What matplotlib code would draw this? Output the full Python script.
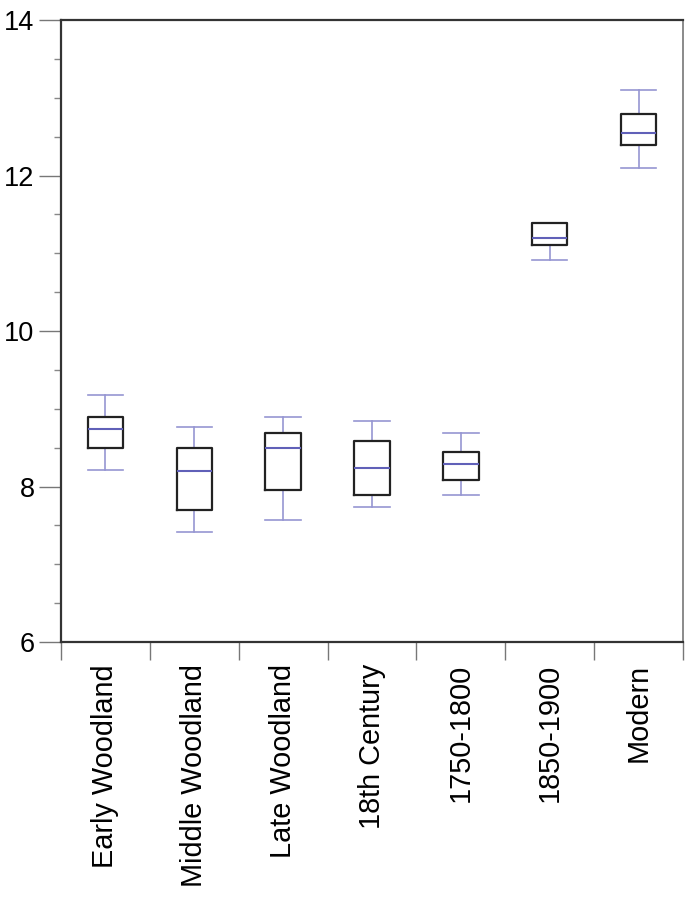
import matplotlib
matplotlib.use("Agg")
import matplotlib.pyplot as plt
from matplotlib.ticker import MultipleLocator, FixedLocator, NullFormatter

categories = ["Early Woodland", "Middle Woodland", "Late Woodland", "18th Century",
              "1750-1800", "1850-1900", "Modern"]
whislo = [8.21, 7.42, 7.57, 7.74, 7.89, 10.91, 12.10]
q1     = [8.49, 7.70, 7.96, 7.89, 8.09, 11.10, 12.39]
med    = [8.74, 8.20, 8.49, 8.24, 8.29, 11.19, 12.55]
q3     = [8.90, 8.49, 8.69, 8.59, 8.44, 11.39, 12.79]
whishi = [9.18, 8.76, 8.89, 8.84, 8.69, 11.39, 13.10]

plt.rcParams['font.family'] = ['Liberation Sans', 'DejaVu Sans']

fig = plt.figure(figsize=(6.85, 8.97), dpi=100)
ax = fig.add_axes([61/685, 1-642/897, (683-61)/685, (642-20)/897])

stats = []
for i in range(len(categories)):
    stats.append(dict(label=categories[i], whislo=whislo[i], q1=q1[i], med=med[i],
                      q3=q3[i], whishi=whishi[i], fliers=[]))

pos = list(range(1, len(categories) + 1))
ax.bxp(stats, positions=pos, widths=0.4, showfliers=False,
       boxprops=dict(color='#222222', linewidth=1.6, zorder=4),
       whiskerprops=dict(color='#9696d2', linewidth=1.2, zorder=2),
       capprops=dict(color='#9696d2', linewidth=1.2, zorder=2),
       medianprops=dict(color='#6060b8', linewidth=1.5, zorder=5),
       capwidths=0.4)

ax.set_xlim(0.5, len(categories) + 0.5)
ax.set_ylim(6, 14)

# x: boundary ticks (major, unlabeled), labels at centers (minor, no tick mark)
ax.xaxis.set_major_locator(FixedLocator([p - 0.5 for p in pos] + [pos[-1] + 0.5]))
ax.xaxis.set_major_formatter(NullFormatter())
ax.xaxis.set_minor_locator(FixedLocator(pos))
ax.set_xticklabels(categories, minor=True, rotation=90, fontsize=20.8, va='top')
ax.tick_params(axis='x', which='major', direction='out', length=13, width=1.0, color='#777777')
ax.tick_params(axis='x', which='minor', length=0, pad=16)

ax.yaxis.set_major_locator(MultipleLocator(2))
ax.yaxis.set_minor_locator(MultipleLocator(0.5))
ax.tick_params(axis='y', which='major', direction='out', length=16, width=1.0,
               color='#777777', labelsize=19.5, pad=3)
ax.tick_params(axis='y', which='minor', direction='out', length=5, width=1.0, color='#888888')

for side in ['left', 'bottom', 'top']:
    ax.spines[side].set_color('#333333')
    ax.spines[side].set_linewidth(1.6)
ax.spines['right'].set_color('#777777')
ax.spines['right'].set_linewidth(1.2)

fig.savefig("out.png", dpi=100)
